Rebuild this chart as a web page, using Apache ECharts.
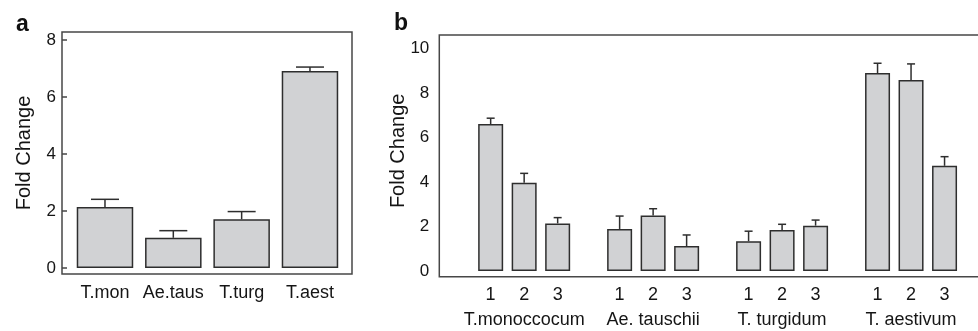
<!DOCTYPE html>
<html>
<head>
<meta charset="utf-8">
<script src="https://cdn.jsdelivr.net/npm/echarts@6/dist/echarts.min.js"></script>
<style>
  html, body { margin: 0; padding: 0; background: #fff; overflow: hidden; }
  #chart { width: 978px; height: 331px; }
</style>
</head>
<body>
<div id="chart"></div>
<script>
// ---- Data ----
const catsA = ['T.mon', 'Ae.taus', 'T.turg', 'T.aest'];
const meanA = [2.14, 1.06, 1.71, 6.91];
const errTopA = [2.41, 1.31, 1.98, 7.05];
const ticksA = [0, 2, 4, 6, 8];

const groupsB = ['T.monoccocum', 'Ae. tauschii', 'T. turgidum', 'T. aestivum'];
const subLabelsB = ['1', '2', '3'];
const meanB1 = [6.61, 1.89, 1.34, 8.90];
const meanB2 = [3.97, 2.49, 1.84, 8.59];
const meanB3 = [2.14, 1.12, 2.04, 4.73];
const errTopB1 = [6.87, 2.47, 1.79, 9.34];
const errTopB2 = [4.39, 2.80, 2.10, 9.31];
const errTopB3 = [2.40, 1.62, 2.29, 5.14];
const ticksB = [0, 2, 4, 6, 8, 10];

// ---- Styling / layout ----
const FONT = '"Liberation Sans", Arial, Helvetica, sans-serif';
const TXT = '#151515';
const FRAME = '#474747';
const BAR_FILL = '#d1d2d4';
const BAR_EDGE = '#2e2e2e';
const BW_A = 56.5;
const BW_B = 25;
const GAP_B = 8.5;
const SUB_OFF = 0.26; // sub-label offset in group units

const chart = echarts.init(document.getElementById('chart'), null, { renderer: 'canvas' });

const pos = arr => arr.map((v, i) => [i + 1, v]);
const posErr = (m, e) => m.map((v, i) => [i + 1, v, e[i]]);

function errRender(cap, pxOffset) {
  return function (params, api) {
    const x = api.value(0), v = api.value(1), e = api.value(2);
    const p0 = api.coord([x, v]);
    const p1 = api.coord([x, e]);
    const cx = p0[0] + pxOffset;
    const st = { stroke: BAR_EDGE, lineWidth: 1.5 };
    return {
      type: 'group',
      children: [
        { type: 'line', shape: { x1: cx, y1: p0[1], x2: cx, y2: p1[1] }, style: st },
        { type: 'line', shape: { x1: cx - cap / 2, y1: p1[1], x2: cx + cap / 2, y2: p1[1] }, style: st }
      ]
    };
  };
}

const subValues = [];
groupsB.forEach((g, i) => { subLabelsB.forEach((s, k) => subValues.push(+(i + 1 + (k - 1) * SUB_OFF).toFixed(3))); });

const barStyle = { color: BAR_FILL, borderColor: BAR_EDGE, borderWidth: 1.5 };

const option = {
  animation: false,
  textStyle: { fontFamily: FONT, color: TXT },
  title: [
    { text: 'a', left: 11, top: 8, textStyle: { fontFamily: FONT, fontWeight: 'bold', fontSize: 23, color: '#111' } },
    { text: 'b', left: 389, top: 7, textStyle: { fontFamily: FONT, fontWeight: 'bold', fontSize: 23, color: '#111' } }
  ],
  grid: [
    { left: 62, top: 32, width: 290, height: 242, show: true, borderColor: FRAME, borderWidth: 1.5, containLabel: false, outerBoundsMode: 'none' },
    { left: 439.3, top: 35, width: 549, height: 241.7, show: true, borderColor: FRAME, borderWidth: 1.5, containLabel: false, outerBoundsMode: 'none' }
  ],
  xAxis: [
    {
      gridIndex: 0, type: 'value', min: 0.371, max: 4.615,
      axisLine: { show: false }, axisTick: { show: false }, splitLine: { show: false },
      axisLabel: {
        customValues: [1, 2, 3, 4], margin: 10, fontSize: 18, color: TXT, fontFamily: FONT,
        formatter: v => catsA[Math.round(v) - 1]
      }
    },
    {
      gridIndex: 1, type: 'value', min: 0.342, max: 4.599,
      axisLine: { show: false }, axisTick: { show: false }, splitLine: { show: false },
      axisLabel: {
        customValues: subValues, margin: 9, fontSize: 18, color: TXT, fontFamily: FONT,
        formatter: v => subLabelsB[Math.round((v - Math.round(v)) / SUB_OFF) + 1]
      }
    },
    {
      gridIndex: 1, type: 'value', min: 0.342, max: 4.599, position: 'bottom',
      axisLine: { show: false }, axisTick: { show: false }, splitLine: { show: false },
      axisLabel: {
        customValues: [1, 2, 3, 4], margin: 34, fontSize: 18, color: TXT, fontFamily: FONT,
        formatter: v => groupsB[Math.round(v) - 1]
      }
    }
  ],
  yAxis: [
    {
      gridIndex: 0, type: 'value', min: -0.21, max: 8.28,
      name: 'Fold Change', nameLocation: 'middle', nameGap: 28,
      nameTextStyle: { fontSize: 20, color: TXT, fontFamily: FONT },
      axisLine: { show: false }, splitLine: { show: false },
      axisTick: { show: true, inside: true, length: 5, customValues: ticksA, lineStyle: { color: FRAME, width: 1.5 } },
      axisLabel: { customValues: ticksA, margin: 6, fontSize: 17, color: TXT, fontFamily: FONT }
    },
    {
      gridIndex: 1, type: 'value', min: -0.256, max: 10.61,
      name: 'Fold Change', nameLocation: 'middle', nameGap: 31, nameMoveOverlap: false,
      nameTextStyle: { fontSize: 20, color: TXT, fontFamily: FONT, padding: [0, 0, 0, 10] },
      axisLine: { show: false }, splitLine: { show: false }, axisTick: { show: false },
      axisLabel: { customValues: ticksB, margin: 10, fontSize: 17, color: TXT, fontFamily: FONT, padding: [0, 0, 10, 0] }
    }
  ],
  series: [
    { type: 'bar', xAxisIndex: 0, yAxisIndex: 0, barWidth: BW_A, data: pos(meanA), itemStyle: barStyle, z: 2 },
    { type: 'custom', xAxisIndex: 0, yAxisIndex: 0, renderItem: errRender(28, 0), data: posErr(meanA, errTopA), z: 3 },

    { type: 'bar', name: '1', xAxisIndex: 1, yAxisIndex: 1, barWidth: BW_B, barGap: (GAP_B / BW_B * 100) + '%', data: pos(meanB1), itemStyle: barStyle, z: 2 },
    { type: 'bar', name: '2', xAxisIndex: 1, yAxisIndex: 1, barWidth: BW_B, barGap: (GAP_B / BW_B * 100) + '%', data: pos(meanB2), itemStyle: barStyle, z: 2 },
    { type: 'bar', name: '3', xAxisIndex: 1, yAxisIndex: 1, barWidth: BW_B, barGap: (GAP_B / BW_B * 100) + '%', data: pos(meanB3), itemStyle: barStyle, z: 2 },
    { type: 'custom', xAxisIndex: 1, yAxisIndex: 1, renderItem: errRender(8, -(BW_B + GAP_B)), data: posErr(meanB1, errTopB1), z: 3 },
    { type: 'custom', xAxisIndex: 1, yAxisIndex: 1, renderItem: errRender(8, 0), data: posErr(meanB2, errTopB2), z: 3 },
    { type: 'custom', xAxisIndex: 1, yAxisIndex: 1, renderItem: errRender(8, (BW_B + GAP_B)), data: posErr(meanB3, errTopB3), z: 3 }
  ]
};

chart.setOption(option);
</script>
</body>
</html>
